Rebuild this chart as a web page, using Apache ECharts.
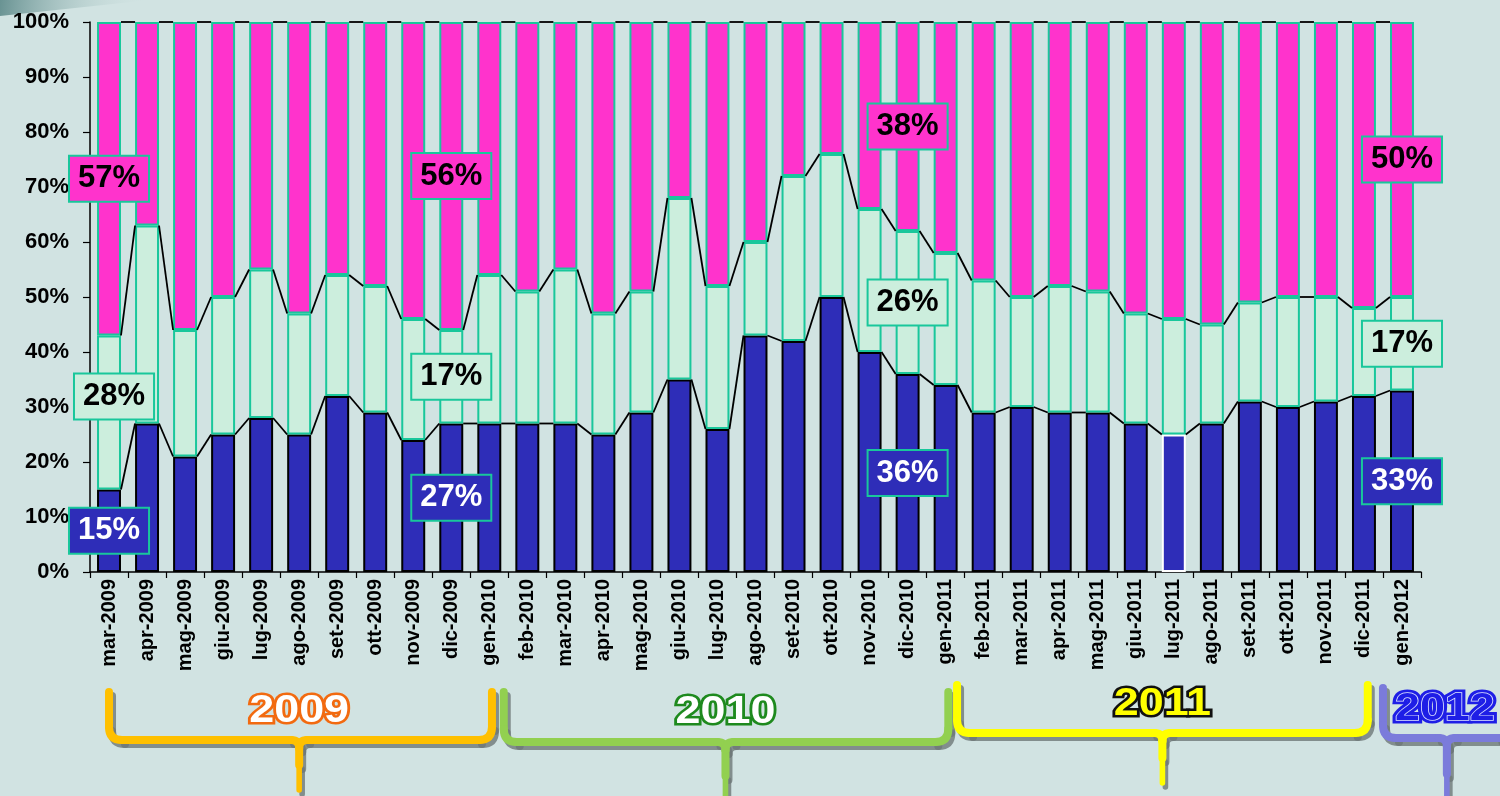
<!DOCTYPE html>
<html>
<head>
<meta charset="utf-8">
<title>Quote mensili</title>
<script src="https://cdn.jsdelivr.net/npm/echarts@6/dist/echarts.min.js"></script>
<style>
  html, body { margin: 0; padding: 0; background: #D1E3E2; }
  #chart { width: 1500px; height: 796px; }
</style>
</head>
<body>
<div id="chart"></div>
<script>
// Monthly categories
const categories = [
  'mar-2009', 'apr-2009', 'mag-2009', 'giu-2009', 'lug-2009', 'ago-2009', 'set-2009',
  'ott-2009', 'nov-2009', 'dic-2009', 'gen-2010', 'feb-2010', 'mar-2010', 'apr-2010',
  'mag-2010', 'giu-2010', 'lug-2010', 'ago-2010', 'set-2010', 'ott-2010', 'nov-2010',
  'dic-2010', 'gen-2011', 'feb-2011', 'mar-2011', 'apr-2011', 'mag-2011', 'giu-2011',
  'lug-2011', 'ago-2011', 'set-2011', 'ott-2011', 'nov-2011', 'dic-2011', 'gen-2012'
];

// Share of each group per month (%), bottom to top
const blueShare = [15, 27, 21, 25, 28, 25, 32, 29, 24, 27, 27, 27, 27, 25, 29, 35, 26, 43,
  42, 50, 40, 36, 34, 29, 30, 29, 29, 27, 25, 27, 31, 30, 31, 32, 33];
const mintShare = [28, 36, 23, 25, 27, 22, 22, 23, 22, 17, 27, 24, 28, 22, 22, 33, 26, 17,
  30, 26, 26, 26, 24, 24, 20, 23, 22, 20, 21, 18, 18, 20, 19, 16, 17];
const pinkShare = [57, 37, 56, 50, 45, 53, 46, 48, 54, 56, 46, 49, 45, 53, 49, 32, 48, 40,
  28, 24, 34, 38, 42, 47, 50, 48, 49, 53, 54, 55, 51, 50, 50, 52, 50];

// Months whose three shares are written out in boxes
const labelledMonths = [0, 9, 21, 34];
// Month drawn with a white outline
const highlightMonth = 28;

// Year brackets under the axis (positions in category units)
const yearLabels = ['2009', '2010', '2011', '2012'];
const yearFrom = [0, 10.38, 22.3, 33.5];
const yearTo = [10.07, 22.07, 33.1, 36.9];
const yearTip = [5, 16.21, 27.7, 35.18];

const FONT = '"Liberation Sans", Arial, Helvetica, sans-serif';
const BAR_RATIO = 0.63;
const TEAL = '#19C79B';
const BLUE = '#2E2DB8';
const MINT = '#CCEEDD';
const PINK = '#FF33CC';

const shares = [blueShare, mintShare, pinkShare];
const cumBlue = blueShare.map(v => v);
const cumMint = blueShare.map((v, i) => v + mintShare[i]);
const cumTop = blueShare.map((v, i) => v + mintShare[i] + pinkShare[i]);

// Connector rows: one per gap between neighbouring months
const linkRows = [];
for (let i = 0; i < categories.length - 1; i++) {
  linkRows.push([i, cumBlue[i], cumBlue[i + 1], cumMint[i], cumMint[i + 1], cumTop[i], cumTop[i + 1]]);
}

// Label rows: month, segment bottom, segment top, value, segment index
const labelRows = [];
labelledMonths.forEach(i => {
  const bounds = [0, cumBlue[i], cumMint[i], cumTop[i]];
  for (let s = 0; s < 3; s++) {
    labelRows.push([i, bounds[s], bounds[s + 1], shares[s][i], s]);
  }
});
const labelNudge = { '0-1': [5, -16] };
const labelFill = [BLUE, MINT, PINK];
const labelText = ['#FFFFFF', '#000000', '#000000'];

function renderLinks(params, api) {
  const i = api.value(0);
  const half = api.size([1, 0])[0] * BAR_RATIO / 2;
  const children = [];
  for (let k = 0; k < 3; k++) {
    const a = api.coord([i, api.value(1 + 2 * k)]);
    const b = api.coord([i + 1, api.value(2 + 2 * k)]);
    children.push({
      type: 'line',
      shape: { x1: a[0] + half, y1: a[1], x2: b[0] - half, y2: b[1] },
      style: { stroke: '#000', lineWidth: 1.8 }
    });
  }
  return { type: 'group', children };
}

function renderLabels(params, api) {
  const i = api.value(0);
  const lo = api.value(1), hi = api.value(2), v = api.value(3), s = api.value(4);
  const p = api.coord([i, (lo + hi) / 2]);
  const nudge = labelNudge[i + '-' + s] || [0, 0];
  return {
    type: 'text',
    x: p[0] + nudge[0],
    y: p[1] + nudge[1],
    style: {
      text: v + '%',
      fill: labelText[s],
      font: 'bold 31px ' + FONT,
      align: 'center',
      verticalAlign: 'middle',
      backgroundColor: labelFill[s],
      borderColor: TEAL,
      borderWidth: 2,
      padding: [7, 8, 6, 8]
    }
  };
}

const chart = echarts.init(document.getElementById('chart'), null, { renderer: 'canvas' });

const option = {
  backgroundColor: '#D1E3E2',
  animation: false,
  grid: { left: 90, right: 79, top: 22, bottom: 224, containLabel: false },
  xAxis: {
    type: 'category',
    data: categories,
    boundaryGap: true,
    axisLine: { show: true, lineStyle: { color: '#000', width: 1.5 } },
    axisTick: { show: true, length: 6, lineStyle: { color: '#000', width: 1.2 } },
    axisLabel: {
      interval: 0,
      rotate: 90,
      margin: 7,
      color: '#000',
      fontFamily: FONT,
      fontWeight: 'bold',
      fontSize: 20
    },
    splitLine: { show: false }
  },
  yAxis: {
    type: 'value',
    min: 0,
    max: 100,
    interval: 10,
    axisLine: { show: true, lineStyle: { color: '#000', width: 1.5 } },
    axisTick: { show: true, length: 7, lineStyle: { color: '#000', width: 1.2 } },
    axisLabel: {
      formatter: '{value}%',
      margin: 21,
      color: '#000',
      fontFamily: FONT,
      fontWeight: 'bold',
      fontSize: 22
    },
    splitLine: { show: false }
  },
  series: [
    {
      name: 'blu',
      type: 'bar',
      stack: 'tot',
      barWidth: (BAR_RATIO * 100) + '%',
      silent: true,
      itemStyle: { color: BLUE, borderColor: '#000', borderWidth: 2 },
      data: blueShare.map((v, i) => i === highlightMonth
        ? { value: v, itemStyle: { borderColor: '#FFFFFF', borderWidth: 2 } }
        : v)
    },
    {
      name: 'verde',
      type: 'bar',
      stack: 'tot',
      silent: true,
      itemStyle: { color: MINT, borderColor: TEAL, borderWidth: 2 },
      data: mintShare
    },
    {
      name: 'rosa',
      type: 'bar',
      stack: 'tot',
      silent: true,
      itemStyle: { color: PINK, borderColor: TEAL, borderWidth: 2 },
      data: pinkShare
    },
    {
      name: 'collegamenti',
      type: 'custom',
      silent: true,
      z: 5,
      renderItem: renderLinks,
      encode: { x: 0, y: 1 },
      data: linkRows
    },
    {
      name: 'etichette',
      type: 'custom',
      silent: true,
      z: 10,
      renderItem: renderLabels,
      encode: { x: 0, y: 1 },
      data: labelRows
    }
  ]
};

chart.setOption(option);

// Year brackets and titles under the month labels
const x0 = chart.convertToPixel({ xAxisIndex: 0 }, 0);
const x1 = chart.convertToPixel({ xAxisIndex: 0 }, 1);
const step = x1 - x0;
const catX = f => x0 + f * step;

const braceColor = ['#FFC000', '#92D050', '#FFFF00', '#7B7BDB'];
const braceTop = [692, 692, 685, 688];
const braceMid = [740, 742, 733, 738];
const braceBottom = [790, 810, 783, 810];
const textY = [711, 712, 704, 709];

// One bracket built from straight pieces and quadratic corners
function braceParts(xl, xr, xc, yTop, yMid, yBot, color, width, dx, dy) {
  const r = 13, r2 = 8;
  const st = { stroke: color, lineWidth: width, lineCap: 'round', fill: null };
  const L = (a, b, c, d, w) => ({ type: 'line', silent: true,
    shape: { x1: a + dx, y1: b + dy, x2: c + dx, y2: d + dy },
    style: Object.assign({}, st, w ? { lineWidth: w } : {}) });
  const Q = (a, b, cx, cy, c, d) => ({ type: 'bezierCurve', silent: true,
    shape: { x1: a + dx, y1: b + dy, cpx1: cx + dx, cpy1: cy + dy, x2: c + dx, y2: d + dy }, style: st });
  return [
    L(xl, yTop, xl, yMid - r),
    Q(xl, yMid - r, xl, yMid, xl + r, yMid),
    L(xl + r, yMid, xc - r2, yMid),
    Q(xc - r2, yMid, xc, yMid, xc, yMid + r2),
    L(xc, yMid + r2, xc, yMid + (yBot - yMid) * 0.5),
    L(xc, yMid + (yBot - yMid) * 0.5, xc, yBot, width * 0.7),
    L(xr, yTop, xr, yMid - r),
    Q(xr, yMid - r, xr, yMid, xr - r, yMid),
    L(xr - r, yMid, xc + r2, yMid),
    Q(xc + r2, yMid, xc, yMid, xc, yMid + r2)
  ];
}

const graphics = [
  {
    type: 'polygon',
    silent: true,
    shape: { points: [[0, 0], [150, 0], [0, 16]] },
    style: {
      fill: new echarts.graphic.LinearGradient(0, 0, 1, 1, [
        { offset: 0, color: 'rgba(70,120,120,0.75)' },
        { offset: 1, color: 'rgba(209,227,226,0)' }
      ])
    }
  }
];

yearLabels.forEach((yr, k) => {
  const xl = catX(yearFrom[k]);
  const xr = catX(yearTo[k]);
  const xc = catX(yearTip[k]);
  graphics.push({
    type: 'group', silent: true,
    children: braceParts(xl, xr, xc, braceTop[k], braceMid[k], braceBottom[k],
      'rgba(110,120,120,0.8)', 8, 3, 4)
  });
  graphics.push({
    type: 'group', silent: true,
    children: braceParts(xl, xr, xc, braceTop[k], braceMid[k], braceBottom[k],
      braceColor[k], 8, 0, 0)
  });
});

const yearStyles = [
  { fill: '#FFFFFF', stroke: '#F26A10' },
  { fill: '#FFFFFF', stroke: '#1E8A1E' },
  { fill: '#FFFF00', stroke: '#111111' },
  { fill: '#1E1EE6', stroke: '#1E1EE6' }
];
const YEAR_FONT = 'bold 39px ' + FONT;
yearLabels.forEach((yr, k) => {
  const cx = catX(yearTip[k]) + (k === 3 ? -2 : 0);
  const base = { type: 'text', silent: true, x: cx, y: textY[k], scaleX: 1.15 };
  if (k === 3) {
    graphics.push(Object.assign({}, base, {
      style: {
        text: yr, font: YEAR_FONT, align: 'center', verticalAlign: 'middle',
        fill: '#1E1EE6', stroke: '#1E1EE6', lineWidth: 7
      }
    }));
    graphics.push(Object.assign({}, base, {
      style: {
        text: yr, font: YEAR_FONT, align: 'center', verticalAlign: 'middle',
        fill: '#1E1EE6', stroke: '#DDE3FF', lineWidth: 1.4
      }
    }));
  } else {
    graphics.push(Object.assign({}, base, {
      style: {
        text: yr, font: YEAR_FONT, align: 'center', verticalAlign: 'middle',
        fill: yearStyles[k].fill, stroke: yearStyles[k].stroke, lineWidth: 5,
        strokeFirst: true
      }
    }));
  }
});

chart.setOption({ graphic: graphics });
</script>
</body>
</html>
